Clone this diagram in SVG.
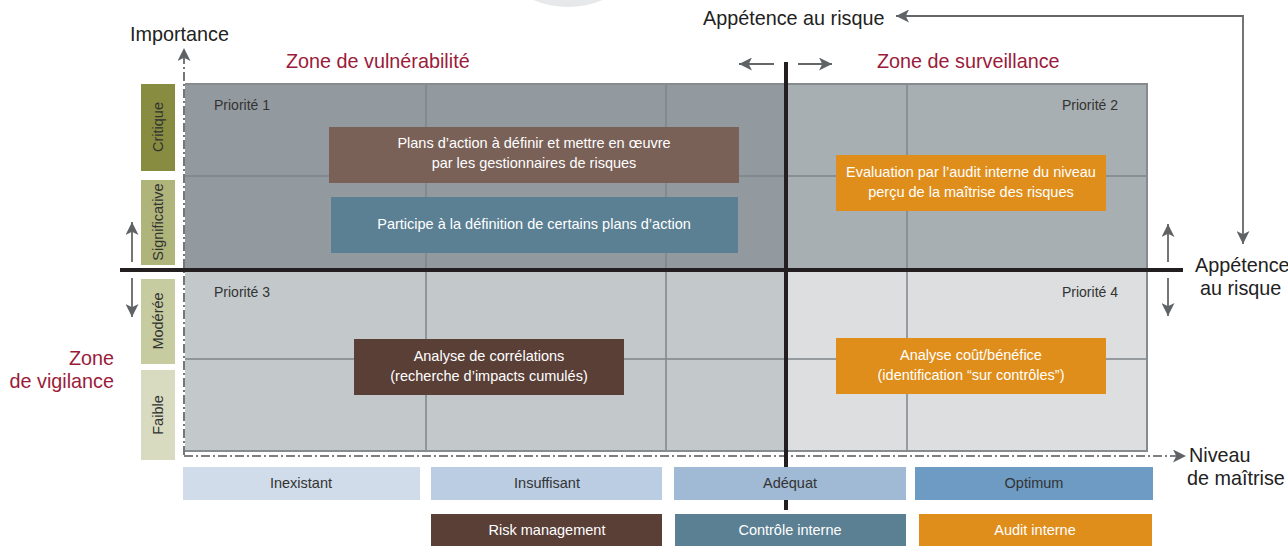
<svg xmlns="http://www.w3.org/2000/svg" width="1288" height="546" viewBox="0 0 1288 546">
<style>
.hv{font-family:"Liberation Sans",Arial,sans-serif;font-size:19.8px;fill:#222}
.zone{font-family:"Liberation Sans",Arial,sans-serif;font-size:19.8px;fill:#9b1b3a}
.my{font-family:"Liberation Sans",Arial,sans-serif;font-size:14.5px}
.dk{fill:#333}
.wt{fill:#fff}
.prio{font-family:"Liberation Sans",Arial,sans-serif;font-size:14px;fill:#333}
.grid{stroke:#7f8589;stroke-width:1.5;fill:none}
.axis{stroke:#555;stroke-width:1.6;fill:none;stroke-dasharray:9 3 2 3}
.arr{stroke:#666;stroke-width:1.8;fill:none}
.thick{stroke:#231f20;stroke-width:4;fill:none}
</style>
<defs>
<marker id="ah" viewBox="0 0 10 10" refX="10" refY="5" markerWidth="22" markerHeight="13" markerUnits="userSpaceOnUse" orient="auto">
<path d="M0,0 L10,5 L0,10 L2.5,5 z" fill="#606366"/>
</marker>
</defs>
<circle cx="568" cy="-84" r="91" fill="#e7e8ea"/>
<g id="matrix">
<rect x="185" y="84" width="601" height="186" fill="#939a9f"/>
<rect x="786" y="84" width="361" height="186" fill="#a8afb2"/>
<rect x="185" y="270" width="601" height="181" fill="#c3c8cb"/>
<rect x="786" y="270" width="361" height="181" fill="#dcdee0"/>
<path class="grid" d="M426,84V451M666,84V451M907,84V451M185,176H1147M185,359H1147"/>
<path d="M185,84H1147V451H185" fill="none" stroke="#868b8f" stroke-width="2"/>
<text class="prio" x="214" y="110">Priorité 1</text>
<text class="prio" x="1118" y="110" text-anchor="end">Priorité 2</text>
<text class="prio" x="214" y="297">Priorité 3</text>
<text class="prio" x="1118" y="297" text-anchor="end">Priorité 4</text>
</g>
<g id="levels">
<rect x="141" y="84" width="34" height="87" fill="#878c40"/>
<rect x="141" y="180" width="34" height="85" fill="#aeb47a"/>
<rect x="141" y="279" width="34" height="85" fill="#c7cca0"/>
<rect x="141" y="370" width="34" height="90" fill="#d8dbc0"/>
<text class="my dk" transform="translate(163,127) rotate(-90)" text-anchor="middle">Critique</text>
<text class="my dk" transform="translate(163,222) rotate(-90)" text-anchor="middle">Significative</text>
<text class="my dk" transform="translate(163,321) rotate(-90)" text-anchor="middle">Modérée</text>
<text class="my dk" transform="translate(163,415) rotate(-90)" text-anchor="middle">Faible</text>
</g>
<g id="connectors">
<line class="axis" x1="184" y1="455" x2="184" y2="48" marker-end="url(#ah)"/>
<line class="axis" x1="184" y1="456" x2="1186" y2="456" marker-end="url(#ah)"/>
<line class="thick" x1="786" y1="62" x2="786" y2="510"/>
<line class="thick" x1="120" y1="270" x2="1183" y2="270"/>
<line class="arr" x1="132" y1="262" x2="132" y2="222" marker-end="url(#ah)"/>
<line class="arr" x1="132" y1="278" x2="132" y2="317" marker-end="url(#ah)"/>
<line class="arr" x1="1168" y1="262" x2="1168" y2="224" marker-end="url(#ah)"/>
<line class="arr" x1="1168" y1="278" x2="1168" y2="316" marker-end="url(#ah)"/>
<line class="arr" x1="774" y1="64" x2="739" y2="64" marker-end="url(#ah)"/>
<line class="arr" x1="798" y1="64" x2="832" y2="64" marker-end="url(#ah)"/>
<path class="arr" d="M1243,16H896" marker-end="url(#ah)"/>
<path class="arr" d="M1243,15V244" marker-end="url(#ah)"/>
</g>
<g id="labels">
<text class="hv" x="130" y="41">Importance</text>
<text class="hv" x="703" y="25">Appétence au risque</text>
<text class="hv" x="1195" y="272">Appétence</text>
<text class="hv" x="1200" y="295">au risque</text>
<text class="hv" x="1189" y="462">Niveau</text>
<text class="hv" x="1187" y="485">de maîtrise</text>
<text class="zone" x="286" y="68">Zone de vulnérabilité</text>
<text class="zone" x="877" y="68">Zone de surveillance</text>
<text class="zone" x="114" y="365" text-anchor="end">Zone</text>
<text class="zone" x="114" y="388" text-anchor="end">de vigilance</text>
</g>
<g id="box-plans">
<rect x="329" y="127" width="410" height="56" fill="#7a6158"/>
<text class="my wt" x="534" y="148" text-anchor="middle">Plans d’action à définir et mettre en œuvre</text>
<text class="my wt" x="534" y="168" text-anchor="middle">par les gestionnaires de risques</text>
</g>
<g id="box-participe">
<rect x="331" y="197" width="407" height="56" fill="#5b7f93"/>
<text class="my wt" x="534" y="229" text-anchor="middle">Participe à la définition de certains plans d’action</text>
</g>
<g id="box-evaluation">
<rect x="836" y="155" width="270" height="56" fill="#e08e1b"/>
<text class="my wt" x="971" y="177" text-anchor="middle">Evaluation par l’audit interne du niveau</text>
<text class="my wt" x="971" y="197" text-anchor="middle">perçu de la maîtrise des risques</text>
</g>
<g id="box-correlations">
<rect x="354" y="339" width="270" height="56" fill="#5a3f37"/>
<text class="my wt" x="489" y="361" text-anchor="middle">Analyse de corrélations</text>
<text class="my wt" x="489" y="381" text-anchor="middle">(recherche d’impacts cumulés)</text>
</g>
<g id="box-cout">
<rect x="836" y="338" width="270" height="56" fill="#e08e1b"/>
<text class="my wt" x="971" y="360" text-anchor="middle">Analyse coût/bénéfice</text>
<text class="my wt" x="971" y="380" text-anchor="middle">(identification “sur contrôles”)</text>
</g>
<g id="scale">
<rect x="183" y="467" width="237" height="33" fill="#d0dce9"/>
<rect x="431" y="467" width="231" height="33" fill="#bacde2"/>
<rect x="674" y="467" width="232" height="33" fill="#a0b9d4"/>
<rect x="915" y="467" width="238" height="33" fill="#6d9bc3"/>
<text class="my dk" x="301" y="488" text-anchor="middle">Inexistant</text>
<text class="my dk" x="547" y="488" text-anchor="middle">Insuffisant</text>
<text class="my dk" x="790" y="488" text-anchor="middle">Adéquat</text>
<text class="my dk" x="1034" y="488" text-anchor="middle">Optimum</text>
</g>
<g id="actors">
<rect x="431" y="514" width="231" height="32" fill="#5a3f37"/>
<rect x="675" y="514" width="231" height="32" fill="#5b7f93"/>
<rect x="919" y="514" width="233" height="32" fill="#e08e1b"/>
<text class="my wt" x="547" y="535" text-anchor="middle">Risk management</text>
<text class="my wt" x="790" y="535" text-anchor="middle">Contrôle interne</text>
<text class="my wt" x="1035" y="535" text-anchor="middle">Audit interne</text>
</g>
</svg>
